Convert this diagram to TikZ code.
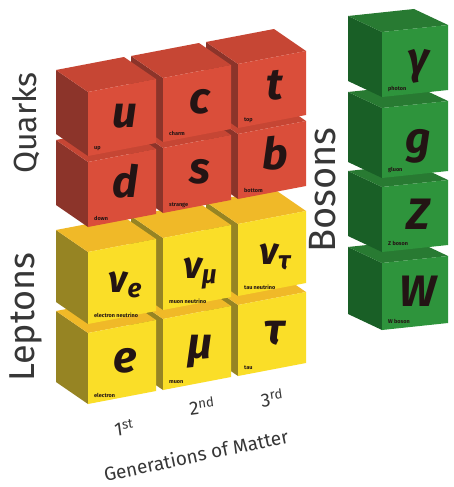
\documentclass[tikz,border=0pt]{standalone}
\usepackage{fontspec}
\setmainfont{Fira Sans}
\usepackage{tikz}
\usetikzlibrary{calc}
\definecolor{rojoF}{RGB}{218,78,58}
\definecolor{rojoT}{RGB}{198,70,52}
\definecolor{rojoL}{RGB}{140,52,42}
\definecolor{amarF}{RGB}{250,222,40}
\definecolor{amarT}{RGB}{240,185,40}
\definecolor{amarL}{RGB}{150,132,35}
\definecolor{verdeF}{RGB}{46,148,60}
\definecolor{verdeT}{RGB}{40,122,50}
\definecolor{verdeL}{RGB}{25,95,38}
\definecolor{tinta}{RGB}{35,20,20}
\definecolor{gris}{RGB}{55,55,55}

\tikzset{
  simbolo/.style={font=\fontsize{44}{44}\selectfont\bfseries\itshape,text=tinta,anchor=base,inner sep=0pt},
  etiqueta/.style={font=\fontsize{5.5}{5.5}\selectfont\bfseries,text=tinta,anchor=base west,inner sep=0pt},
  grupo/.style={text=gris,rotate=90,inner sep=0pt},
  gen/.style={font=\fontsize{19}{19}\selectfont,text=gris,inner sep=0pt}
}

% cube geometry (px)
\newcommand{\ancho}{68}
\newcommand{\pend}{13}
\newcommand{\profx}{-32}
\newcommand{\profy}{-22}
\newcommand{\base}{0.65}

% #1 colour, (#2,#3) front top-left, #4 height, #5 symbol, #6 name, #7 node
\newcommand{\cubo}[7]{%
  \begin{scope}[shift={(#2,#3)}]
    \fill[#1L] (0,0) -- (0,#4) -- ++(\profx,\profy) -- (\profx,\profy) -- cycle;
    \fill[#1T] (0,0) -- (\ancho,-\pend) -- ++(\profx,\profy) -- (\profx,\profy) -- cycle;
    \fill[#1F] (0,0) -- (\ancho,-\pend) -- ++(0,#4) -- (0,#4) -- cycle;
    \node[simbolo] (#7) at (\ancho/2+3,\base*#4-\pend/2) {#5};
    \node[etiqueta] (#7-n) at (6,#4-7) {#6};
  \end{scope}}

\newcommand{\nusub}[1]{{\fontsize{38}{38}\selectfont ν}\raisebox{-5pt}{\fontsize{26}{26}\selectfont #1}}

\begin{document}
\begin{tikzpicture}[x=1pt,y=-1pt]
  \useasboundingbox[fill=white] (0,0) rectangle (453,487);

  % leptons (lower rows first, right to left)
  \cubo{amar}{238}{305}{71}{τ}{tau}{tau}
  \cubo{amar}{163}{319}{71}{μ}{muon}{mu}
  \cubo{amar}{88}{333}{71}{e}{electron}{e}
  \cubo{amar}{238}{224}{72}{\nusub{τ}}{tau neutrino}{nut}
  \cubo{amar}{163}{238}{72}{\nusub{μ}}{muon neutrino}{num}
  \cubo{amar}{88}{252}{72}{\nusub{e}}{electron neutrino}{nue}

  % quarks
  \cubo{rojo}{238}{134}{65}{b}{bottom}{b}
  \cubo{rojo}{163}{148}{65}{s}{strange}{s}
  \cubo{rojo}{88}{162}{65}{d}{down}{d}
  \cubo{rojo}{238}{64}{64}{t}{top}{t}
  \cubo{rojo}{163}{78}{64}{c}{charm}{c}
  \cubo{rojo}{88}{92}{64}{u}{up}{u}

  % bosons
  \renewcommand{\ancho}{66}
  \renewcommand{\pend}{7}
  \renewcommand{\profx}{-34}
  \renewcommand{\profy}{-16}
  \renewcommand{\base}{0.7}
  \cubo{verde}{382}{263}{67}{W}{W boson}{W}
  \cubo{verde}{382}{187}{65}{Z}{Z boson}{Z}
  \cubo{verde}{382}{108}{70}{g}{gluon}{g}
  \cubo{verde}{382}{32}{65}{γ}{photon}{gamma}

  % group names
  \node[grupo,font=\fontsize{32}{32}\selectfont] (quarks) at (26,123) {Quarks};
  \node[grupo,font=\fontsize{36}{36}\selectfont] (leptons) at (26,317) {Leptons};
  \node[grupo,font=\fontsize{38}{38}\selectfont] (bosons) at (323,190) {Bosons};

  % generations
  \node[gen,rotate=8] (g1) at (124,428) {1\textsuperscript{st}};
  \node[gen,rotate=8] (g2) at (202,406) {2\textsuperscript{nd}};
  \node[gen,rotate=8] (g3) at (272,398) {3\textsuperscript{rd}};
  \node[gen,rotate=12] (gens) at (196,455) {Generations of Matter};
\end{tikzpicture}
\end{document}
